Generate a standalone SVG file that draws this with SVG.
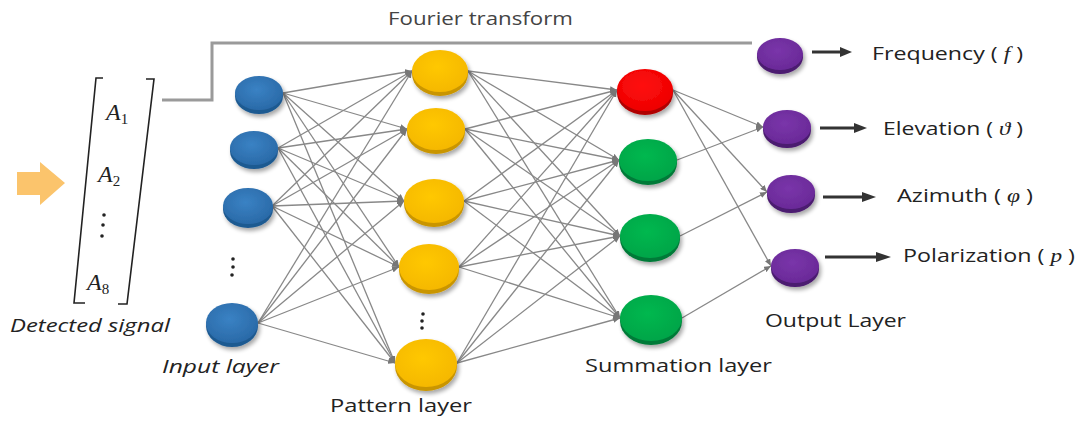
<svg xmlns="http://www.w3.org/2000/svg" width="1082" height="421" viewBox="0 0 1082 421">
<style>
.lbl{font-family:"Open Sans","Noto Sans",sans-serif;font-size:18px;fill:#222}
.ol{font-size:19px}
.it{font-style:italic}
.mi{font-family:"Liberation Serif",serif;font-style:italic}
.mth{font-family:"Liberation Serif",serif;font-style:italic;font-size:24px;fill:#222}
.sub{font-family:"Liberation Serif",serif;font-style:normal;font-size:15px}
.conn line{stroke:#888;stroke-width:1.3;marker-end:url(#ah)}
.oarr line{stroke:#333;stroke-width:3}
.oarr path{fill:#333}
.br{fill:none;stroke:#222;stroke-width:1.6}
</style>
<defs>
<marker id="ah" markerUnits="userSpaceOnUse" markerWidth="7" markerHeight="6" refX="7" refY="3" orient="auto">
<path d="M0,0 L7,3 L0,6 z" fill="#777"/>
</marker>
<filter id="sh" x="-30%" y="-30%" width="160%" height="170%">
<feGaussianBlur in="SourceAlpha" stdDeviation="2"/>
<feOffset dx="2" dy="3"/>
<feComponentTransfer><feFuncA type="linear" slope="0.35"/></feComponentTransfer>
<feMerge><feMergeNode/><feMergeNode in="SourceGraphic"/></feMerge>
</filter>
<radialGradient id="gb" cx="45%" cy="40%" r="60%"><stop offset="0" stop-color="#3a82c4"/><stop offset="1" stop-color="#2a6aa8"/></radialGradient>
<radialGradient id="gy" cx="45%" cy="40%" r="60%"><stop offset="0" stop-color="#ffc800"/><stop offset="1" stop-color="#f5b800"/></radialGradient>
<radialGradient id="gr" cx="45%" cy="40%" r="60%"><stop offset="0" stop-color="#ff1010"/><stop offset="1" stop-color="#ee0000"/></radialGradient>
<radialGradient id="gg" cx="45%" cy="40%" r="60%"><stop offset="0" stop-color="#00b84f"/><stop offset="1" stop-color="#00a548"/></radialGradient>
<radialGradient id="gp" cx="45%" cy="40%" r="60%"><stop offset="0" stop-color="#7a35aa"/><stop offset="1" stop-color="#6a2a98"/></radialGradient>
</defs>
<rect width="1082" height="421" fill="#fff"/>

<g id="fourier">
<polyline points="162,100 212,100 212,43 752,43" fill="none" stroke="#9a9a9a" stroke-width="3"/>
<text class="lbl" x="388" y="25" style="fill:#444" textLength="185" lengthAdjust="spacingAndGlyphs">Fourier transform</text>
</g>

<g id="input-arrow">
<path d="M17,172 L40,172 L40,162 L65,183 L40,205 L40,195 L17,195 z" fill="#fbc46c"/>
</g>

<g id="signal">
<path class="br" d="M103,78 L96,78 L74,303 L85,303"/>
<path class="br" d="M146,79 L154,79 L127,304 L118,304"/>
<text class="mth" x="106" y="120">A<tspan class="sub" dy="4">1</tspan></text>
<text class="mth" x="98" y="182">A<tspan class="sub" dy="4">2</tspan></text>
<circle cx="104" cy="215" r="1.8" fill="#222"/>
<circle cx="103" cy="225" r="1.8" fill="#222"/>
<circle cx="102" cy="236" r="1.8" fill="#222"/>
<text class="mth" x="87" y="290">A<tspan class="sub" dy="4">8</tspan></text>
<text class="lbl it" x="10" y="332" textLength="160" lengthAdjust="spacingAndGlyphs">Detected signal</text>
</g>

<g id="connectors" class="conn">
<line x1="283" y1="93" x2="412" y2="71"/><line x1="283" y1="93" x2="407" y2="129"/><line x1="283" y1="93" x2="404" y2="201"/><line x1="283" y1="93" x2="399" y2="267"/><line x1="283" y1="93" x2="395" y2="363"/>
<line x1="278" y1="148" x2="412" y2="71"/><line x1="278" y1="148" x2="407" y2="129"/><line x1="278" y1="148" x2="404" y2="201"/><line x1="278" y1="148" x2="399" y2="267"/><line x1="278" y1="148" x2="395" y2="363"/>
<line x1="272" y1="206" x2="412" y2="71"/><line x1="272" y1="206" x2="407" y2="129"/><line x1="272" y1="206" x2="404" y2="201"/><line x1="272" y1="206" x2="399" y2="267"/><line x1="272" y1="206" x2="395" y2="363"/>
<line x1="258" y1="323" x2="412" y2="71"/><line x1="258" y1="323" x2="407" y2="129"/><line x1="258" y1="323" x2="404" y2="201"/><line x1="258" y1="323" x2="399" y2="267"/><line x1="258" y1="323" x2="395" y2="363"/>
<line x1="468" y1="71" x2="617" y2="90"/><line x1="468" y1="71" x2="619" y2="160"/><line x1="468" y1="71" x2="620" y2="236"/><line x1="468" y1="71" x2="620" y2="318"/>
<line x1="465" y1="129" x2="617" y2="90"/><line x1="465" y1="129" x2="619" y2="160"/><line x1="465" y1="129" x2="620" y2="236"/><line x1="465" y1="129" x2="620" y2="318"/>
<line x1="464" y1="201" x2="617" y2="90"/><line x1="464" y1="201" x2="619" y2="160"/><line x1="464" y1="201" x2="620" y2="236"/><line x1="464" y1="201" x2="620" y2="318"/>
<line x1="459" y1="267" x2="617" y2="90"/><line x1="459" y1="267" x2="619" y2="160"/><line x1="459" y1="267" x2="620" y2="236"/><line x1="459" y1="267" x2="620" y2="318"/>
<line x1="457" y1="363" x2="617" y2="90"/><line x1="457" y1="363" x2="619" y2="160"/><line x1="457" y1="363" x2="620" y2="236"/><line x1="457" y1="363" x2="620" y2="318"/>
<line x1="673" y1="90" x2="763" y2="127"/><line x1="673" y1="90" x2="767" y2="192"/><line x1="673" y1="90" x2="771" y2="266"/>
<line x1="677" y1="160" x2="763" y2="127"/>
<line x1="680" y1="236" x2="767" y2="192"/>
<line x1="682" y1="318" x2="771" y2="266"/>
</g>

<g id="input-layer">
<g id="in1" filter="url(#sh)"><ellipse cx="259" cy="96" rx="24" ry="18" fill="#1f5a91"/><ellipse cx="259" cy="93" rx="24" ry="17" fill="url(#gb)"/></g>
<g id="in2" filter="url(#sh)"><ellipse cx="254" cy="151" rx="24" ry="18" fill="#1f5a91"/><ellipse cx="254" cy="148" rx="24" ry="17" fill="url(#gb)"/></g>
<g id="in3" filter="url(#sh)"><ellipse cx="248" cy="209" rx="25" ry="19" fill="#1f5a91"/><ellipse cx="248" cy="206" rx="25" ry="18" fill="url(#gb)"/></g>
<g id="in-dots"><circle cx="233" cy="259" r="1.8" fill="#222"/><circle cx="233" cy="267" r="1.8" fill="#222"/><circle cx="232" cy="275" r="1.8" fill="#222"/></g>
<g id="in4" filter="url(#sh)"><ellipse cx="232" cy="326" rx="26" ry="21" fill="#1f5a91"/><ellipse cx="232" cy="323" rx="26" ry="20" fill="url(#gb)"/></g>
<text class="lbl it" x="162" y="373" textLength="117" lengthAdjust="spacingAndGlyphs">Input layer</text>
</g>

<g id="pattern-layer">
<g id="pa1" filter="url(#sh)"><ellipse cx="440" cy="74" rx="28" ry="22" fill="#c99500"/><ellipse cx="440" cy="71" rx="28" ry="21" fill="url(#gy)"/></g>
<g id="pa2" filter="url(#sh)"><ellipse cx="436" cy="132" rx="29" ry="22" fill="#c99500"/><ellipse cx="436" cy="129" rx="29" ry="21" fill="url(#gy)"/></g>
<g id="pa3" filter="url(#sh)"><ellipse cx="434" cy="204" rx="30" ry="23" fill="#c99500"/><ellipse cx="434" cy="201" rx="30" ry="22" fill="url(#gy)"/></g>
<g id="pa4" filter="url(#sh)"><ellipse cx="429" cy="270" rx="30" ry="24" fill="#c99500"/><ellipse cx="429" cy="267" rx="30" ry="23" fill="url(#gy)"/></g>
<g id="pa-dots"><circle cx="423" cy="314" r="1.8" fill="#222"/><circle cx="422" cy="321" r="1.8" fill="#222"/><circle cx="422" cy="328" r="1.8" fill="#222"/></g>
<g id="pa5" filter="url(#sh)"><ellipse cx="426" cy="366" rx="31" ry="25" fill="#c99500"/><ellipse cx="426" cy="363" rx="31" ry="24" fill="url(#gy)"/></g>
<text class="lbl" x="330" y="412" textLength="142" lengthAdjust="spacingAndGlyphs">Pattern layer</text>
</g>

<g id="summation-layer">
<g id="su1" filter="url(#sh)"><ellipse cx="645" cy="93" rx="28" ry="22" fill="#b00000"/><ellipse cx="645" cy="90" rx="28" ry="21" fill="url(#gr)"/></g>
<g id="su2" filter="url(#sh)"><ellipse cx="648" cy="163" rx="29" ry="22" fill="#007a38"/><ellipse cx="648" cy="160" rx="29" ry="21" fill="url(#gg)"/></g>
<g id="su3" filter="url(#sh)"><ellipse cx="650" cy="239" rx="30" ry="23" fill="#007a38"/><ellipse cx="650" cy="236" rx="30" ry="22" fill="url(#gg)"/></g>
<g id="su4" filter="url(#sh)"><ellipse cx="651" cy="321" rx="31" ry="24" fill="#007a38"/><ellipse cx="651" cy="318" rx="31" ry="23" fill="url(#gg)"/></g>
<text class="lbl" x="585" y="372" textLength="187" lengthAdjust="spacingAndGlyphs">Summation layer</text>
</g>

<g id="output-layer">
<g id="ou1" filter="url(#sh)"><ellipse cx="780" cy="57" rx="23" ry="17" fill="#4b1a70"/><ellipse cx="780" cy="54" rx="23" ry="16" fill="url(#gp)"/></g>
<g id="ou2" filter="url(#sh)"><ellipse cx="787" cy="130" rx="24" ry="18" fill="#4b1a70"/><ellipse cx="787" cy="127" rx="24" ry="17" fill="url(#gp)"/></g>
<g id="ou3" filter="url(#sh)"><ellipse cx="791" cy="195" rx="24" ry="18" fill="#4b1a70"/><ellipse cx="791" cy="192" rx="24" ry="17" fill="url(#gp)"/></g>
<g id="ou4" filter="url(#sh)"><ellipse cx="795" cy="269" rx="24" ry="18" fill="#4b1a70"/><ellipse cx="795" cy="266" rx="24" ry="17" fill="url(#gp)"/></g>
<text class="lbl" x="765" y="327" textLength="141" lengthAdjust="spacingAndGlyphs">Output Layer</text>
</g>

<g id="out-arrows" class="oarr">
<line x1="812" y1="52" x2="842" y2="52"/><path d="M852,52 L840,47 L840,57 z"/>
<line x1="820" y1="128" x2="856" y2="128"/><path d="M867,128 L854,123 L854,133 z"/>
<line x1="823" y1="197" x2="864" y2="197"/><path d="M876,197 L862,192 L862,202 z"/>
<line x1="825" y1="257" x2="878" y2="257"/><path d="M891,257 L876,252 L876,262 z"/>
</g>

<g id="out-labels">
<text class="lbl ol" x="872" y="60" textLength="151" lengthAdjust="spacingAndGlyphs">Frequency ( <tspan class="mi">f</tspan> )</text>
<text class="lbl ol" x="883" y="135" textLength="140" lengthAdjust="spacingAndGlyphs">Elevation ( <tspan class="mi">ϑ</tspan> )</text>
<text class="lbl ol" x="897" y="202" textLength="136" lengthAdjust="spacingAndGlyphs">Azimuth ( <tspan class="mi">φ</tspan> )</text>
<text class="lbl ol" x="903" y="262" textLength="172" lengthAdjust="spacingAndGlyphs">Polarization ( <tspan class="mi">p</tspan> )</text>
</g>
</svg>
